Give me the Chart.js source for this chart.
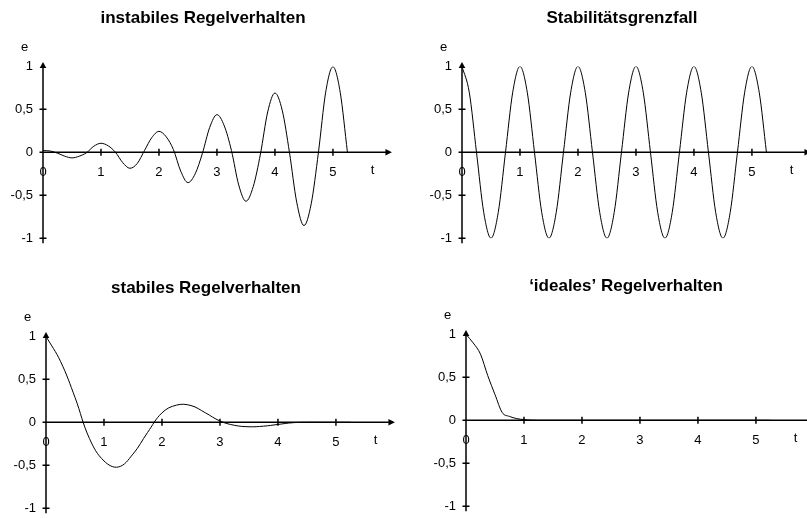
<!DOCTYPE html>
<html>
<head>
<meta charset="utf-8">
<script src="https://cdn.jsdelivr.net/npm/chart.js@4/dist/chart.umd.min.js"></script>
<style>
  html, body { margin: 0; padding: 0; background: #fff; overflow: hidden; width: 807px; height: 518px; }
  canvas { position: absolute; }
</style>
</head>
<body>
<canvas id="instabil" width="406" height="256" style="left:0;top:0"></canvas>
<canvas id="grenzfall" width="406" height="256" style="left:419px;top:0"></canvas>
<canvas id="stabil" width="406" height="256" style="left:3px;top:270px"></canvas>
<canvas id="ideal" width="406" height="256" style="left:423px;top:268px"></canvas>
<script>
// ── Daten ─────────────────────────────────────────────────────────────
const xTickValues = [0, 1, 2, 3, 4, 5];
const xTickLabels = ['0', '1', '2', '3', '4', '5'];
const yTickLabels = ['-1', '-0,5', '0', '0,5', '1'];
const yTickMarks  = [-1, -0.5, 0.5];
const xPfeil      = 6;      // Spitze der t-Achse
const xAchsenName = 't';
const yAchsenName = 'e';

// Zeitpunkte (Schritt 0,125) für die beiden oberen Diagramme
const tFein = [0, 0.125, 0.25, 0.375, 0.5, 0.625, 0.75, 0.875,
               1, 1.125, 1.25, 1.375, 1.5, 1.625, 1.75, 1.875,
               2, 2.125, 2.25, 2.375, 2.5, 2.625, 2.75, 2.875,
               3, 3.125, 3.25, 3.375, 3.5, 3.625, 3.75, 3.875,
               4, 4.125, 4.25, 4.375, 4.5, 4.625, 4.75, 4.875,
               5, 5.125, 5.25];

const eInstabil = [0.02, 0.015, -0.01, -0.045, -0.065, -0.045, -0.005, 0.07,
                   0.105, 0.075, 0, -0.12, -0.186, -0.13, 0.02, 0.17,
                   0.244, 0.18, 0.03, -0.22, -0.353, -0.25, -0.01, 0.29,
                   0.438, 0.31, 0.02, -0.38, -0.57, -0.4, -0.02, 0.47,
                   0.69, 0.49, 0, -0.58, -0.853, -0.6, 0, 0.7,
                   0.996, 0.7, 0];

const eGrenzfall = [1, 0.7, 0, -0.7, -1, -0.7, 0, 0.7,
                    1, 0.7, 0, -0.7, -1, -0.7, 0, 0.7,
                    1, 0.7, 0, -0.7, -1, -0.7, 0, 0.7,
                    1, 0.7, 0, -0.7, -1, -0.7, 0, 0.7,
                    1, 0.7, 0, -0.7, -1, -0.7, 0, 0.7,
                    1, 0.7, 0];

const tStabil = [0, 0.25, 0.5, 0.75, 1, 1.25, 1.5, 1.75, 2, 2.25, 2.5, 2.75,
                 3, 3.25, 3.5, 3.75, 4, 4.25, 4.5, 4.75, 5, 5.25];
const eStabil = [1, 0.71, 0.29, -0.19, -0.45, -0.52, -0.37, -0.12, 0.11, 0.2, 0.195, 0.11,
                 0.015, -0.035, -0.052, -0.045, -0.025, -0.005, 0, 0, 0, 0];

const tIdeal = [0, 0.125, 0.25, 0.375, 0.5, 0.625, 0.75, 0.875, 1, 1.25, 1.5, 1.75,
                2, 2.5, 3, 3.5, 4, 4.5, 5, 5.25];
const eIdeal = [1, 0.9, 0.77, 0.52, 0.3, 0.09, 0.045, 0.02, 0.008, 0, 0, 0,
                0, 0, 0, 0, 0, 0, 0, 0];

const FONT = '"Liberation Sans", Arial, sans-serif';

// ── Achsen mit Pfeilen, Strichen und Namen ────────────────────────────
const achsenPlugin = {
    id: 'achsen',
    beforeDatasetsDraw(chart, args, opts) {
        const { ctx, scales: { x, y } } = chart;
        const x0   = x.getPixelForValue(0);
        const y0   = y.getPixelForValue(0);
        const yTop = y.getPixelForValue(1);
        const yBot = y.getPixelForValue(-1);
        const xEnd = x.getPixelForValue(xPfeil);

        ctx.save();
        ctx.strokeStyle = '#000';
        ctx.fillStyle   = '#000';
        ctx.lineWidth   = 1.5;
        ctx.beginPath();
        ctx.moveTo(x0, yBot + 5);
        ctx.lineTo(x0, yTop - 1);
        ctx.moveTo(x0 - 3.5, y0);
        ctx.lineTo(xEnd - 3, y0);
        yTickMarks.forEach(v => {
            const p = y.getPixelForValue(v);
            ctx.moveTo(x0 - 3.5, p);
            ctx.lineTo(x0 + 3.5, p);
        });
        xTickValues.slice(1).forEach(v => {
            const p = x.getPixelForValue(v);
            ctx.moveTo(p, y0 - 3.5);
            ctx.lineTo(p, y0 + 3.5);
        });
        ctx.stroke();

        // Pfeilspitzen
        ctx.beginPath();
        ctx.moveTo(x0, yTop - 4.5);
        ctx.lineTo(x0 - 3.3, yTop + 1.5);
        ctx.lineTo(x0 + 3.3, yTop + 1.5);
        ctx.closePath();
        ctx.fill();
        ctx.beginPath();
        ctx.moveTo(xEnd + 1, y0);
        ctx.lineTo(xEnd - 5.5, y0 - 3.3);
        ctx.lineTo(xEnd - 5.5, y0 + 3.3);
        ctx.closePath();
        ctx.fill();

        ctx.font = '13px ' + FONT;
        ctx.textAlign = 'center';
        ctx.textBaseline = 'middle';
        ctx.fillText(yAchsenName, x0 + opts.eDx, yTop + opts.eDy);
        ctx.fillText(xAchsenName, x.getPixelForValue(5) + opts.tDx, y0 + opts.tDy);
        ctx.restore();
    }
};

// ── Diagramm ──────────────────────────────────────────────────────────
function zeichne(id, titel, tWerte, eWerte, glatt) {
    new Chart(document.getElementById(id), {
        type: 'line',
        data: {
            datasets: [{
                data: tWerte.map((t, i) => ({ x: t, y: eWerte[i] })),
                borderColor: '#000',
                borderWidth: 1,
                pointRadius: 0,
                fill: false,
                tension: 0.4,
                cubicInterpolationMode: glatt
            }]
        },
        options: {
            responsive: false,
            animation: false,
            layout: { padding: { left: 0, right: 0, top: 0, bottom: 12 } },
            plugins: {
                legend: { display: false },
                tooltip: { enabled: false },
                title: {
                    display: true,
                    text: titel,
                    color: '#000',
                    font: { family: FONT, size: 17, weight: 'bold' },
                    padding: { top: 8, bottom: 38 }
                },
                achsen: { eDx: -18.5, eDy: -18.5, tDx: 39.5, tDy: 18 }
            },
            scales: {
                x: {
                    type: 'linear',
                    min: 0, max: 6.26,
                    position: { y: 0 },
                    grid: { display: false, drawTicks: false },
                    border: { display: false },
                    afterBuildTicks: s => { s.ticks = xTickValues.map(v => ({ value: v })); },
                    ticks: {
                        color: '#000', font: { family: FONT, size: 13 },
                        padding: 12, maxRotation: 0, autoSkip: false,
                        callback: (v, i) => xTickLabels[i]
                    }
                },
                y: {
                    min: -1, max: 1,
                    afterFit: s => { s.width = 43; },
                    grid: { display: false, drawTicks: false },
                    border: { display: false },
                    ticks: {
                        stepSize: 0.5, color: '#000', font: { family: FONT, size: 13 },
                        padding: 10,
                        callback: (v, i) => yTickLabels[i]
                    }
                }
            }
        },
        plugins: [achsenPlugin]
    });
}

zeichne('instabil',  'instabiles Regelverhalten', tFein,   eInstabil,  'monotone');
zeichne('grenzfall', 'Stabilitätsgrenzfall',      tFein,   eGrenzfall, 'monotone');
zeichne('stabil',    'stabiles Regelverhalten',   tStabil, eStabil,    'default');
zeichne('ideal',     '\u2018ideales\u2019 Regelverhalten', tIdeal, eIdeal, 'monotone');
</script>
</body>
</html>
